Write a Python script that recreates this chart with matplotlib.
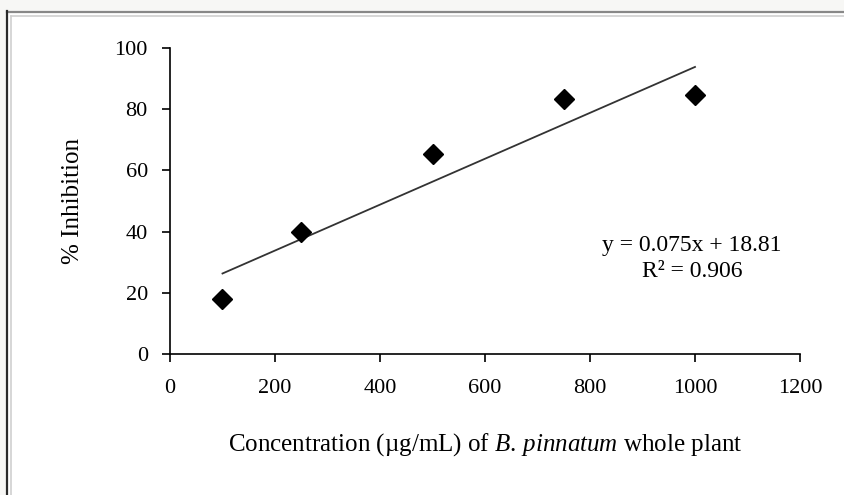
import matplotlib
matplotlib.use("Agg")
import matplotlib.pyplot as plt
from matplotlib.lines import Line2D
import numpy as np

# Données
concentration = [100, 250, 500, 750, 1000]
inhibition = [18.0, 40.0, 65.5, 83.4, 84.8]
pente = 0.075
ordonnee = 18.81
r2 = 0.906

plt.rcParams['font.family'] = 'Liberation Serif'
plt.rcParams['mathtext.fontset'] = 'custom'
plt.rcParams['mathtext.rm'] = 'Liberation Serif'
plt.rcParams['mathtext.it'] = 'Liberation Serif:italic'

fig = plt.figure(figsize=(8.45, 4.95), dpi=100)
fig.patch.set_facecolor('#f7f7f5')

# cadre autour du graphique
fond = plt.Rectangle((7 / 845, 0), 1, 1 - 11 / 495, transform=fig.transFigure,
                     facecolor='white', edgecolor='none', zorder=-2)
fig.add_artist(fond)
fig.add_artist(Line2D([7 / 845, 1], [1 - 11.5 / 495] * 2, color='#888888', lw=1.6))
fig.add_artist(Line2D([7.5 / 845] * 2, [0, 1 - 11 / 495], color='#2a2a2a', lw=1.6))
fig.add_artist(Line2D([11.5 / 845, 1], [1 - 15.5 / 495] * 2, color='#cfcfcf', lw=1.2))
fig.add_artist(Line2D([11.5 / 845] * 2, [0, 1 - 15.5 / 495], color='#cfcfcf', lw=1.2))

ax = fig.add_axes([170 / 845, 1 - 354 / 495, 630 / 845, 306 / 495])
ax.set_facecolor('none')

ax.plot(concentration, inhibition, linestyle='none', marker='D', markersize=10.5,
        color='black', zorder=3)

x_fit = np.array([concentration[0], concentration[-1]])
ax.plot(x_fit, pente * x_fit + ordonnee, color='#333333', lw=1.3)

ax.text(994, 35.3, f"y = {pente}x + {ordonnee}", ha='center', va='center', fontsize=17)
ax.text(994, 26.8, f"R² = {r2}", ha='center', va='center', fontsize=17)

ax.set_xlim(0, 1200)
ax.set_ylim(0, 100)
ax.set_xticks(range(0, 1201, 200))
ax.set_yticks(range(0, 101, 20))
for s in ['top', 'right']:
    ax.spines[s].set_visible(False)
for s in ['left', 'bottom']:
    ax.spines[s].set_linewidth(1.2)
ax.tick_params(direction='out', length=6, width=1.2, labelsize=16)
ax.tick_params(axis='x', pad=12)
ax.tick_params(axis='y', pad=10)

ax.set_xlabel(r'Concentration (µg/mL) of $\mathit{B.\,pinnatum}$ whole plant',
              fontsize=18, labelpad=24)
ax.set_ylabel('% Inhibition', fontsize=18, labelpad=22)

fig.savefig('out.png', dpi=100, facecolor=fig.get_facecolor())
